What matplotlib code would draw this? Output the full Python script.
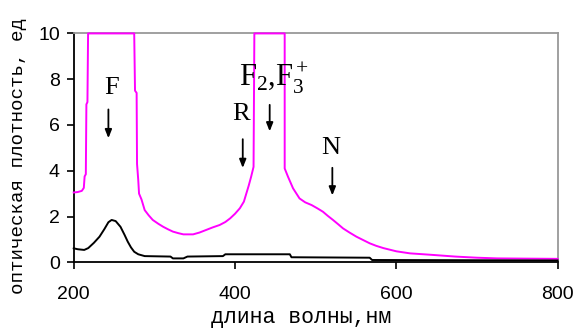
import matplotlib
matplotlib.use("Agg")
import matplotlib.pyplot as plt

plt.rcParams["mathtext.fontset"] = "custom"
plt.rcParams["mathtext.rm"] = "Liberation Serif"
plt.rcParams["mathtext.it"] = "Liberation Serif"
plt.rcParams["mathtext.bf"] = "Liberation Serif"

# magenta curve (irradiated)
mag_x = [200, 205, 210, 212.5, 213.5, 215, 215.7, 217, 217.8, 275, 276, 278, 278.5,
         280, 281, 284, 288, 293, 298, 305, 311, 317, 323, 330, 336, 348, 356, 364,
         372, 381, 388, 394, 400, 406, 411, 414, 417, 420, 423, 424, 461.6, 461.6,
         465.7, 472, 480, 487, 495, 502, 509, 515, 521.5, 528, 534, 542, 550.5, 559,
         567, 575, 584, 600, 617, 642, 673, 700, 725, 760, 800]
mag_y = [3.05, 3.07, 3.12, 3.25, 3.75, 3.85, 6.9, 7.0, 10, 10, 7.5, 7.4, 4.3,
         3.6, 3.0, 2.75, 2.28, 2.05, 1.85, 1.68, 1.55, 1.44, 1.34, 1.27, 1.22, 1.22, 1.3, 1.41,
         1.52, 1.63, 1.76, 1.92, 2.12, 2.36, 2.65, 3.0, 3.35, 3.74, 4.17, 10, 10, 4.1,
         3.74, 3.23, 2.79, 2.62, 2.5, 2.36, 2.21, 2.03, 1.85, 1.66, 1.48, 1.3, 1.12, 0.97,
         0.83, 0.72, 0.62, 0.48, 0.39, 0.33, 0.25, 0.2, 0.17, 0.16, 0.15]

# black curve (initial)
blk_x = [200, 205, 213, 218, 225, 232, 238, 243, 247, 252, 258, 263, 267, 271, 275,
         280, 288, 320, 323, 336, 341, 385, 388, 468, 470, 567, 570, 800]
blk_y = [0.61, 0.57, 0.54, 0.62, 0.85, 1.12, 1.45, 1.75, 1.85, 1.8, 1.55, 1.2, 0.9, 0.65, 0.46,
         0.35, 0.27, 0.25, 0.17, 0.17, 0.25, 0.27, 0.35, 0.35, 0.22, 0.2, 0.1, 0.08]

x_ticks = [200, 400, 600, 800]
y_ticks = [0, 2, 4, 6, 8, 10]

# labels: (text, x, y) and arrows (x, y_start, y_end)
labels = [("F", 246.5, 7.6), ("R", 407.7, 6.5), ("N", 518.7, 5.0)]
arrows = [(243, 6.8, 5.3), (409.6, 5.5, 4.0), (443, 7.0, 5.6), (520.7, 4.25, 2.8)]

fig = plt.figure(figsize=(5.76, 3.31), dpi=100)
ax = fig.add_axes([0.128, 0.2076, 0.84, 0.6914])

ax.plot(mag_x, mag_y, color="#FF00FF", lw=1.4, zorder=3, clip_on=False)
ax.plot(blk_x, blk_y, color="black", lw=1.4, zorder=4, clip_on=False)

ax.set_xlim(200, 800)
ax.set_ylim(0, 10)
ax.set_xticks(x_ticks)
ax.set_yticks(y_ticks)

for s in ["left", "bottom"]:
    ax.spines[s].set_color("black")
    ax.spines[s].set_linewidth(1.3)
for s in ["top", "right"]:
    ax.spines[s].set_color("#999999")
    ax.spines[s].set_linewidth(1.3)

ax.tick_params(direction="out", length=5, width=1.2, color="black",
               labelsize=14)
ax.tick_params(axis="x", pad=12)
ax.tick_params(axis="y", pad=5)
for lab in ax.get_xticklabels() + ax.get_yticklabels():
    lab.set_family("Liberation Sans")

mono = "Liberation Mono"
ax.set_xlabel("длина волны,нм", family=mono, fontsize=15.5)
ax.xaxis.set_label_coords(0.471, -0.195)
ax.set_ylabel("оптическая плотность, ед", family=mono, fontsize=13.8)
ax.yaxis.set_label_coords(-0.097, 0.464)

serif = "Liberation Serif"
for t, x, y in labels:
    ax.text(x, y, t, family=serif, fontsize=19, ha="center", va="center")
ax.text(448, 8.05, r"$\mathrm{F_2}$,$\mathrm{F_3^+}$", family=serif, fontsize=22,
        ha="center", va="center")

for x, y0, y1 in arrows:
    ax.annotate("", xy=(x, y1), xytext=(x, y0),
                arrowprops=dict(arrowstyle="-|>,head_length=0.5,head_width=0.2",
                                color="black", lw=1.3))

fig.savefig("out.png", dpi=100)
